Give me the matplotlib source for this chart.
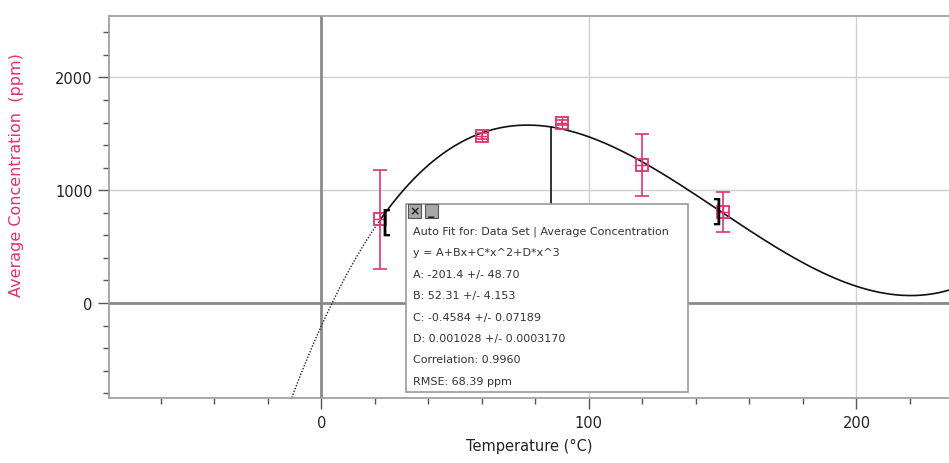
import numpy as np
import matplotlib.pyplot as plt
from matplotlib.patches import Rectangle

plt.rcParams['font.family'] = ['DejaVu Sans']

# measured points
temperature = [22, 60, 90, 120, 150]
avg_conc = [743, 1481, 1600, 1223, 809]
conc_err = [440, 28, 20, 277, 178]

# cubic auto fit y = A + Bx + Cx^2 + Dx^3
fit_coef = [-201.4, 52.31, -0.4584, 0.001028]
fit_range = (22, 150)
fit_lines = [
    'Auto Fit for: Data Set | Average Concentration',
    'y = A+Bx+C*x^2+D*x^3',
    'A: -201.4 +/- 48.70',
    'B: 52.31 +/- 4.153',
    'C: -0.4584 +/- 0.07189',
    'D: 0.001028 +/- 0.0003170',
    'Correlation: 0.9960',
    'RMSE: 68.39 ppm',
]

pink = '#e2336b'
W, H = 949, 464
XMIN, XMAX = -79.4, 234.6


def fit(x):
    a, b, c, d = fit_coef
    return a + b * x + c * x ** 2 + d * x ** 3


fig = plt.figure(figsize=(W / 100, H / 100), dpi=100)
ax = fig.add_axes([109 / W, 1 - 399 / H, 1 - 109 / W, (399 - 16.7) / H])
ax.set_xlim(XMIN, XMAX)
ax.set_ylim(-842, 2548)

# grid and zero lines
for v in [100, 200]:
    ax.axvline(v, color='#d0d0d0', lw=1, zorder=0)
for v in [1000, 2000]:
    ax.axhline(v, color='#d0d0d0', lw=1, zorder=0)
ax.axvline(0, color='#8a8a8a', lw=2, zorder=0.5)
ax.axhline(0, color='#8a8a8a', lw=2, zorder=0.5)

# fit curve: dotted left of the fit range, solid from the range start on
xs_left = np.linspace(XMIN, fit_range[0], 200)
xs_right = np.linspace(fit_range[0], XMAX, 600)
ax.plot(xs_left, fit(xs_left), color='#222222', lw=1, ls=(0, (1, 1.2)), zorder=2)
ax.plot(xs_right, fit(xs_right), color='#111111', lw=1.2, zorder=2)

# data with error bars
ax.errorbar(temperature, avg_conc, yerr=conc_err, fmt='none', ecolor=pink,
            elinewidth=1.2, capsize=5, capthick=1.2, zorder=3)
ax.plot(temperature, avg_conc, ls='none', marker='s', ms=8.5, mfc='none',
        mec=pink, mew=1.3, zorder=4)
ax.plot(temperature, avg_conc, ls='none', marker='+', ms=8.5, mec=pink,
        mew=1.0, zorder=4)

# range brackets
ax.text(fit_range[0] + 0.2, fit(fit_range[0]) - 20, '[', fontsize=22,
        ha='left', va='center', color='black', zorder=5)
ax.text(fit_range[1] - 0.2, fit(fit_range[1]) + 10, ']', fontsize=22,
        ha='right', va='center', color='black', zorder=5)

# leader line from curve to info box
mid = sum(fit_range) / 2
box_l, box_t, box_r, box_b = 406, 205, 688, 393
box_top_y = ax.transData.inverted().transform(
    fig.transFigure.transform((0, 1 - box_t / H)))[1]
ax.plot([mid, mid], [fit(mid), box_top_y], color='#111111', lw=1.2, zorder=2)

# info box
fig.patches.append(Rectangle((box_l / W, 1 - box_b / H),
                             (box_r - box_l) / W, (box_b - box_t) / H,
                             transform=fig.transFigure, facecolor='white',
                             edgecolor='#9a9a9a', lw=1.2, zorder=6))
for bx, lab in [(408, '×'), (425, '_')]:
    fig.patches.append(Rectangle((bx / W, 1 - 219 / H), 13 / W, 14 / H,
                                 transform=fig.transFigure, facecolor='#a8a8a8',
                                 edgecolor='#555555', lw=0.8, zorder=7))
    fig.text((bx + 6.5) / W, 1 - 212 / H, lab, fontsize=9, ha='center',
             va='center', color='#222222', fontweight='bold', zorder=8)
for i, line in enumerate(fit_lines):
    fig.text(413 / W, 1 - (232 + i * 21.4) / H, line, fontsize=8,
             ha='left', va='center', color='#333333', zorder=8)

# ticks
ax.set_xticks([0, 100, 200])
ax.set_xticks(np.arange(-60, 234, 20), minor=True)
ax.set_yticks([0, 1000, 2000])
ax.set_yticks(np.arange(-800, 2548, 200), minor=True)
ax.tick_params(which='major', length=8, width=1, color='#555555',
               labelsize=10.5, labelcolor='#222222', pad=4)
ax.tick_params(which='minor', length=4, width=1, color='#555555')
for side in ['left', 'bottom', 'top']:
    ax.spines[side].set_color('#9a9a9a')
    ax.spines[side].set_linewidth(1.2)
ax.spines['right'].set_visible(False)

ax.set_xlabel('Temperature (°C)', fontsize=10.5, color='#222222', labelpad=6)
fig.text(17 / W, 1 - 175 / H, 'Average Concentration  (ppm)', rotation=90,
         fontsize=11.5, color=pink, ha='center', va='center')

fig.savefig('out.png', dpi=100)
